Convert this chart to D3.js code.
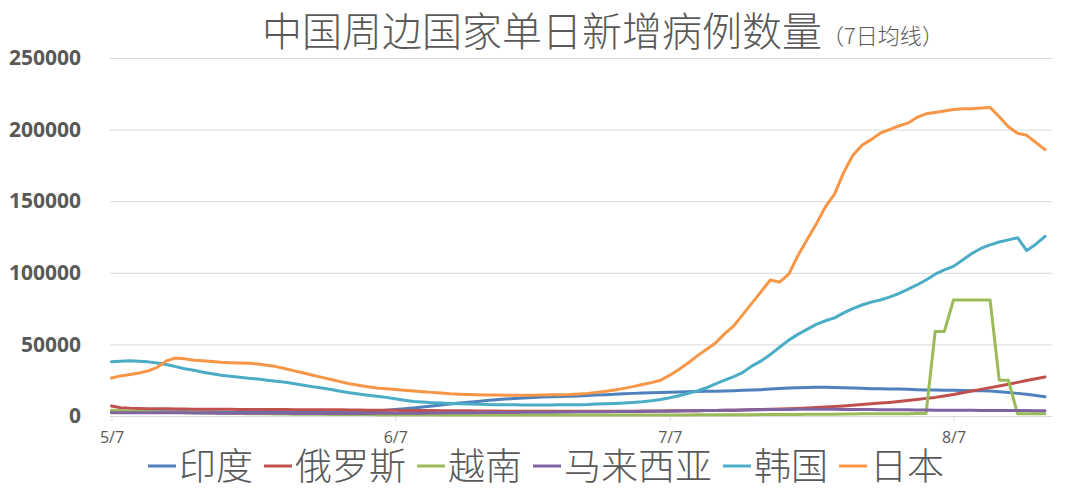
<!DOCTYPE html>
<html><head><meta charset="utf-8">
<script src="https://cdn.jsdelivr.net/npm/d3@7"></script>
<style>body{margin:0;background:#fff;} svg{display:block}</style>
</head><body><svg id="c" width="1084" height="490"></svg>
<script>
// ---- data ----
const startDay = "2022-05-07";
const seriesNames = ["印度", "俄罗斯", "越南", "马来西亚", "韩国", "日本"];
const india = [3300,3300,3200,3200,3100,3000,3000,2900,2900,2800,
  2800,2800,2700,2700,2700,2600,2600,2600,2500,2500,
  2500,2500,2500,2500,2600,2700,2800,3000,3200,3500,
  4000,4500,5000,5600,6300,7000,7700,8400,9000,9600,
  10200,10800,11300,11800,12200,12600,12900,13200,13400,13600,
  13800,14000,14300,14600,14900,15200,15500,15800,16000,16200,
  16400,16600,16800,17000,17100,17200,17300,17500,17700,17900,
  18100,18400,18800,19200,19500,19700,19900,20000,20000,19900,
  19700,19500,19300,19100,19000,18900,18800,18600,18400,18200,
  18100,18000,17900,17800,17700,17600,17400,17000,16400,15800,
  15200,14300,13400];
const russia = [7000,5800,5400,5200,5100,5000,5000,4900,4900,4800,
  4800,4700,4700,4700,4600,4600,4600,4500,4500,4500,
  4400,4400,4400,4300,4300,4300,4200,4200,4100,4100,
  4000,4000,3900,3900,3800,3800,3700,3700,3600,3600,
  3500,3500,3500,3400,3400,3400,3300,3300,3300,3300,
  3300,3300,3300,3300,3300,3400,3400,3400,3500,3500,
  3500,3600,3600,3700,3700,3800,3900,4000,4100,4200,
  4300,4500,4700,4900,5100,5300,5600,5900,6200,6600,
  7000,7500,8000,8500,9000,9500,10100,10800,11500,12300,
  13000,14000,15000,16200,17400,18600,19800,21000,22200,23500,
  24800,26000,27300];
const vietnam = [4000,3600,3300,3100,2900,2700,2500,2400,2300,2200,
  2100,2000,1900,1800,1700,1600,1500,1500,1400,1400,
  1300,1300,1200,1200,1100,1100,1000,1000,1000,900,
  900,900,800,800,800,800,700,700,700,700,
  700,700,700,700,700,700,700,700,700,700,
  700,700,700,700,700,700,700,700,700,700,
  700,700,700,700,800,800,800,800,900,900,
  900,1000,1000,1000,1100,1100,1200,1200,1300,1300,
  1400,1400,1500,1500,1500,1600,1600,1600,1700,1700,
  59000,59000,81000,81000,81000,81000,81000,25000,25000,1500,
  1500,1500,1500];
const malaysia = [2200,2200,2300,2300,2300,2300,2200,2200,2200,2100,
  2100,2100,2000,2000,2000,2000,1900,1900,1900,1900,
  1800,1800,1800,1800,1800,1800,1800,1800,1800,1900,
  1900,1900,2000,2000,2000,2100,2100,2200,2200,2300,
  2300,2400,2400,2500,2500,2600,2600,2700,2700,2800,
  2800,2900,2900,3000,3000,3100,3100,3200,3200,3300,
  3300,3400,3500,3600,3700,3800,3900,4000,4100,4200,
  4300,4400,4500,4600,4600,4700,4700,4700,4700,4700,
  4600,4600,4500,4500,4400,4400,4300,4300,4200,4200,
  4100,4100,4000,4000,4000,3900,3900,3900,3800,3800,
  3800,3700,3700];
const korea = [37800,38300,38500,38300,37800,37000,36000,34500,33000,32000,
  30500,29500,28500,27800,27000,26300,25800,25000,24200,23500,
  22500,21500,20500,19500,18500,17300,16200,15300,14500,13800,
  13000,12000,11000,10200,9700,9300,9000,8800,8600,8400,
  8200,8000,7900,7800,7800,7700,7700,7700,7700,7800,
  7800,7900,8000,8300,8600,8800,9000,9400,9900,10600,
  11500,12700,14200,15800,17500,19700,22500,25000,27500,30500,
  35000,38500,43000,48000,53000,57000,60500,64000,66500,68500,
  72000,75000,77500,79500,81000,83000,85500,88500,91500,95000,
  99000,102000,104500,109000,113500,117000,119500,121500,123000,124500,
  115500,120000,125500];
const japan = [26500,28000,29000,30000,31500,34000,38500,40500,40000,39000,
  38500,38000,37500,37200,37000,36800,36300,35500,34500,33000,
  31500,30000,28500,27000,25500,24000,22500,21500,20500,19500,
  19000,18500,18000,17500,17000,16500,16000,15500,15200,15000,
  14800,14700,14600,14500,14500,14500,14500,14600,14800,14900,
  15000,15300,15800,16500,17300,18200,19300,20500,22000,23300,
  25000,28500,32500,37000,42000,46500,51000,57500,63000,71000,
  79000,87000,95000,93500,99000,112000,123000,134000,146000,155000,
  170000,182000,189000,193000,197500,200000,202500,204500,208500,211000,
  212000,213000,214000,214500,214500,215000,215500,209000,202000,197500,
  196000,191000,186000];
const tickDays = ["2022-05-07", "2022-06-07", "2022-07-07", "2022-08-07"];
const tickLabels = ["5/7", "6/7", "7/7", "8/7"];
const yTickValues = [0, 50000, 100000, 150000, 200000, 250000];

// ---- styles ----
const colors = ["#4F81BD", "#C0504D", "#9BBB59", "#8064A2", "#4BACC6", "#F79646"];
const seriesData = [india, russia, vietnam, malaysia, korea, japan];

const svg = d3.select("#c");
const parse = d3.utcParse("%Y-%m-%d");
const d0 = parse(startDay);
const days = india.map((_, i) => d3.utcDay.offset(d0, i));

const x = d3.scaleUtc().domain([days[0], days[days.length - 1]]).range([111.5, 1045]);
const y = d3.scaleLinear().domain([0, 250000]).range([416, 58]);
const gridLeft = 110, gridRight = 1052;

// gridlines + y labels
const ya = svg.append("g").attr("transform", `translate(${gridLeft},0)`)
  .call(d3.axisLeft(y).tickValues(yTickValues).tickFormat(d3.format("d"))
    .tickSize(-(gridRight - gridLeft)).tickPadding(29));
ya.select(".domain").remove();
ya.selectAll(".tick line").attr("stroke", "#D9D9D9").attr("stroke-width", 1)
  .attr("opacity", d => d === 0 ? 0 : 1);
ya.selectAll(".tick text").attr("fill", "#595959")
  .style("font-family", "'Open Sans', sans-serif").style("font-weight", "700").style("font-size", "21px");

// x axis
svg.append("line").attr("x1", gridLeft).attr("x2", gridRight).attr("y1", y(0) + 0.5).attr("y2", y(0) + 0.5)
  .attr("stroke", "#D9D9D9");
const xa = svg.append("g").attr("transform", `translate(0,${y(0)})`)
  .call(d3.axisBottom(x).tickValues(tickDays.map(parse)).tickFormat((d, i) => tickLabels[i])
    .tickSize(5).tickPadding(11));
xa.select(".domain").remove();
xa.selectAll(".tick line").attr("stroke", "#D9D9D9");
xa.selectAll(".tick text").attr("fill", "#595959")
  .style("font-family", "'Open Sans', sans-serif").style("font-size", "16px");

// lines
const line = d3.line().x((d, i) => x(days[i])).y(d => y(d));
seriesData.forEach((s, k) => {
  svg.append("path").datum(s).attr("d", line).attr("fill", "none")
    .attr("stroke", colors[k]).attr("stroke-width", 3)
    .attr("stroke-linejoin", "round").attr("stroke-linecap", "round");
});

// title
const title = svg.append("text").attr("x", 262).attr("y", 46).attr("fill", "#595959")
  .style("font-family", "'Noto Sans CJK SC', sans-serif");
title.append("tspan").style("font-size", "40px").style("font-weight", "300").text("中国周边国家单日新增病例数量");
title.append("tspan").style("font-size", "22px").style("font-weight", "300").attr("dy", -2).text("（7日均线）");

// legend
const lg = svg.append("g");
let cx = 0;
seriesNames.forEach((n, k) => {
  const g = lg.append("g");
  g.append("line").attr("x1", cx).attr("x2", cx + 28).attr("y1", 466).attr("y2", 466)
    .attr("stroke", colors[k]).attr("stroke-width", 3);
  const t = g.append("text").attr("x", cx + 31).attr("y", 480).attr("fill", "#595959")
    .style("font-family", "'Noto Sans CJK SC', sans-serif").style("font-size", "37px").style("font-weight", "300").text(n);
  cx += 31 + t.node().getComputedTextLength() + 11;
});
const total = cx - 11;
lg.attr("transform", `translate(${546 - total / 2},0)`);
</script></body></html>
